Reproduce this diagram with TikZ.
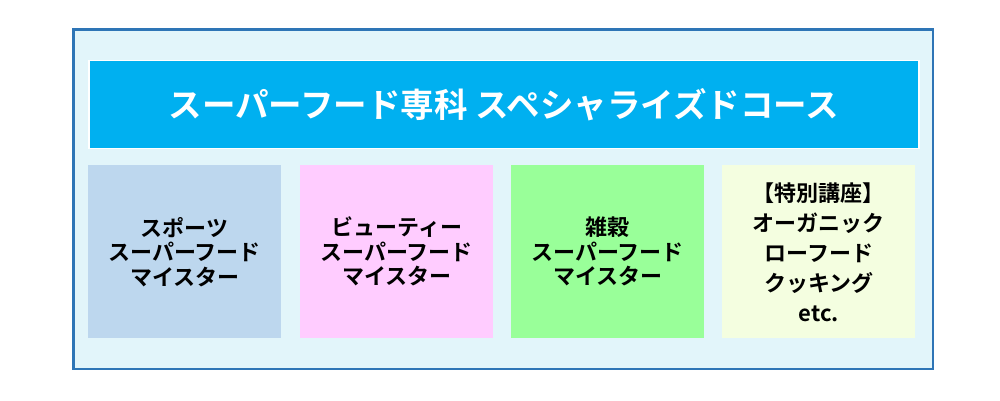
\documentclass[tikz,border=0pt]{standalone}
\usepackage{fontspec}
\newfontfamily\cjk{Noto Sans CJK JP}[BoldFont={Noto Sans CJK JP Bold}]
\definecolor{frameblue}{HTML}{2E75B6}
\definecolor{framefill}{HTML}{E2F5FA}
\definecolor{banner}{HTML}{00B0F0}
\definecolor{boxa}{HTML}{BDD7EE}
\definecolor{boxb}{HTML}{FFCCFF}
\definecolor{boxc}{HTML}{99FF99}
\definecolor{boxd}{HTML}{F4FEE0}
\begin{document}
\begin{tikzpicture}[x=1pt,y=1pt,
  course/.style={draw=none,minimum width=193pt,minimum height=173pt,anchor=south west,
    inner sep=0pt,align=center,text=black,font=\cjk\bfseries\fontsize{22}{24.5}\selectfont}]
\useasboundingbox (0,0) rectangle (1000,400);
\fill[white] (0,0) rectangle (1000,400);
\draw[frameblue,fill=framefill,line width=2.6pt] (73.5,31) rectangle (933,370.5);
\node[fill=banner,draw=white,line width=1.5pt,minimum width=830pt,minimum height=88pt,
  anchor=south west,inner sep=0pt,text=white,font=\cjk\bfseries\fontsize{33.5}{38}\selectfont]
  (title) at (88,251) {スーパーフード専科 スペシャライズドコース};
\node[course,fill=boxa] (sport) at (88,61.5) {スポーツ\\スーパーフード\\マイスター};
\node[course,fill=boxb] (beauty) at (300,61.5) {ビューティー\\スーパーフード\\マイスター};
\node[course,fill=boxc] (grain) at (511,61.5) {雑穀\\スーパーフード\\マイスター};
\node[course,fill=boxd,font=\cjk\bfseries\fontsize{22}{30}\selectfont] (special) at (722,61.5)
  {【特別講座】\\オーガニック\\ローフード\\クッキング\\etc.};
\end{tikzpicture}
\end{document}
